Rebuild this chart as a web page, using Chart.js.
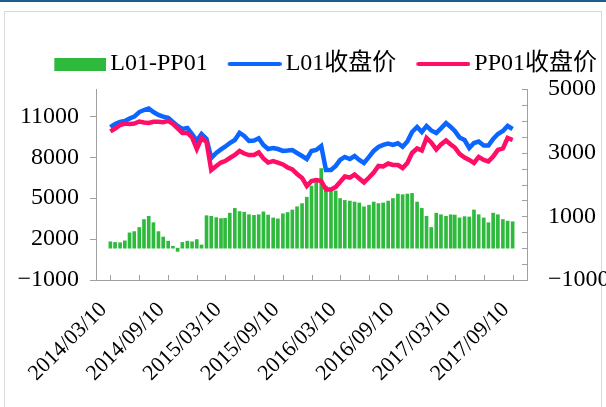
<!DOCTYPE html>
<html>
<head>
<meta charset="utf-8">
<script src="https://cdn.jsdelivr.net/npm/chart.js@4"></script>
<style>
  body { margin: 0; width: 606px; height: 407px; position: relative; background: #fff; overflow: hidden; }
  .topline { position: absolute; left: 0; top: 0; width: 606px; height: 2px; background: #1b5e8e; }
  .frame { position: absolute; left: 4px; top: 11px; width: 596px; height: 420px; border: 1px solid #d9d9d9; }
  #chart { position: absolute; left: 0; top: 0; }
</style>
</head>
<body>
<div class="topline"></div>
<div class="frame"></div>
<canvas id="chart" width="606" height="407"></canvas>
<script>
// sampled twice a month (the 10th and the 25th), 2014/03/10 .. 2017/09/10
const startYear = 2014, startMonth = 2, monthCount = 42;

const l01Close = [
  10200, 10430, 10580, 10650, 10840, 10980, 11310, 11460, 11570, 11310,
  11100, 10970, 10880, 10580, 10290, 10070, 10140, 9700, 9200, 9700,
  9340, 7940, 8310, 8570, 8770, 9040, 9260, 9780, 9560, 9190,
  9230, 9390, 8900, 8600, 8680, 8600, 8460, 8490, 8530, 8310,
  8090, 7870, 8460, 8530, 8820, 7060, 7060, 7360, 7800, 8020,
  7870, 8090, 7800, 7580, 8020, 8460, 8750, 8900, 9000, 8900,
  9020, 8770, 9150, 9850, 10220, 9850, 10290, 9960, 9780, 10120,
  10500, 10220, 9920, 9450, 9260, 8680, 9040, 9150, 8860, 8860,
  9340, 9700, 9920, 10290, 10070
];

const pp01Close = [
  9890, 10100, 10360, 10470, 10440, 10470, 10620, 10550, 10510, 10600,
  10600, 10560, 10660, 10440, 10110, 9780, 9780, 9450, 8600, 9400,
  9120, 7060, 7360, 7610, 7720, 7940, 8160, 8460, 8270, 8160,
  8160, 8350, 7910, 7610, 7720, 7610, 7470, 7250, 7100, 6770,
  6480, 5890, 6260, 6330, 6260, 5630, 5630, 5820, 6180, 6590,
  6510, 6730, 6440, 6150, 6510, 6880, 7360, 7320, 7540, 7430,
  7430, 7210, 7580, 8310, 8640, 8490, 9410, 9080, 8570, 8930,
  9230, 8930, 8710, 8240, 7980, 7800, 7580, 8020, 7800, 7690,
  8040, 8530, 8650, 9410, 9260
];

const spread = [
  200, 180, 170, 230, 480, 520, 650, 900, 1000, 800,
  520, 350, 220, 60, -100, 180, 220, 200, 270, 100,
  1020, 1000, 960, 930, 940, 1100, 1250, 1150, 1130, 1050,
  1030, 1050, 1140, 1040, 950, 920, 1080, 1120, 1200, 1300,
  1400, 1600, 1950, 2150, 2500, 1950, 1850, 1800, 1560, 1500,
  1480, 1450, 1420, 1300, 1350, 1450, 1400, 1420, 1480, 1560,
  1700, 1680, 1700, 1720, 1450, 1250, 1000, 650, 1100, 1050,
  1000, 1050, 1040, 950, 990, 980, 1200, 1050, 950, 800,
  1100, 1050, 900, 850, 830
];

const xTickLabels = ['2014/03/10', '2014/09/10', '2015/03/10', '2015/09/10',
  '2016/03/10', '2016/09/10', '2017/03/10', '2017/09/10'];
const leftTicks = [-1000, 2000, 5000, 8000, 11000];
const rightTicks = [-1000, 1000, 3000, 5000];

const seriesNames = ['L01-PP01', 'L01收盘价', 'PP01收盘价'];
const green = '#2fba3e', blue = '#0a66ff', red = '#ff0d66', axisColor = '#a0a0a0';
const FONT = "'Liberation Serif', 'Noto Sans CJK SC', serif";

const day0 = Date.UTC(startYear, startMonth, 10);
const toDay = t => Math.round((t - day0) / 86400000);

// x positions (days since first date)
const sampleDays = [];
for (let k = 0; k <= monthCount; k++) {
  sampleDays.push(toDay(Date.UTC(startYear, startMonth + k, 10)));
  if (k < monthCount) sampleDays.push(toDay(Date.UTC(startYear, startMonth + k, 25)));
}
const quarterDays = [];
for (let k = 0; k <= monthCount; k += 3) quarterDays.push(toDay(Date.UTC(startYear, startMonth + k, 10)));

const pts = arr => arr.map((v, i) => ({ x: sampleDays[i], y: v }));
const numLabel = v => (v < 0 ? '\u2212' + Math.abs(v) : String(v));

// legend swatches: bar box and thick line, drawn flush right in a 73px image
function swatch(kind, color) {
  const c = document.createElement('canvas');
  c.width = 73; c.height = 16;
  const g = c.getContext('2d');
  if (kind === 'bar') {
    g.fillStyle = color;
    g.fillRect(21, 2, 52, 13);
  } else {
    g.strokeStyle = color;
    g.lineWidth = 4;
    g.lineCap = 'round';
    g.beginPath(); g.moveTo(21, 8); g.lineTo(71, 8); g.stroke();
  }
  return c;
}
const swatches = [swatch('bar', green), swatch('line', blue), swatch('line', red)];

const axisTicks = {
  id: 'axisTicks',
  afterInit(chart) {
    const lg = chart.legend;
    const fit = lg.fit;
    lg.fit = function () { fit.call(this); this.height = 46; };
  },
  afterDraw(chart) {
    const { ctx, chartArea: a, scales } = chart;
    ctx.save();
    ctx.strokeStyle = axisColor;
    ctx.lineWidth = 1;
    ctx.beginPath();
    leftTicks.forEach(v => {
      const y = Math.round(scales.y.getPixelForValue(v)) + 0.5;
      ctx.moveTo(a.left - 6, y); ctx.lineTo(a.left, y);
    });
    for (let v = -1000; v <= 5000; v += 500) {
      const y = Math.round(scales.y1.getPixelForValue(v)) + 0.5;
      ctx.moveTo(a.right - 5, y); ctx.lineTo(a.right, y);
    }
    quarterDays.forEach(d => {
      const x = Math.round(scales.x.getPixelForValue(d)) + 0.5;
      ctx.moveTo(x, a.bottom); ctx.lineTo(x, a.bottom - 5);
    });
    ctx.stroke();
    ctx.restore();
  }
};

new Chart(document.getElementById('chart'), {
  data: {
    datasets: [
      {
        type: 'bar', label: seriesNames[0], data: pts(spread), yAxisID: 'y1',
        backgroundColor: green, barThickness: 3, order: 3
      },
      {
        type: 'line', label: seriesNames[1], data: pts(l01Close), yAxisID: 'y',
        borderColor: blue, backgroundColor: blue, borderWidth: 4.5, pointRadius: 0, tension: 0, order: 2
      },
      {
        type: 'line', label: seriesNames[2], data: pts(pp01Close), yAxisID: 'y',
        borderColor: red, backgroundColor: red, borderWidth: 4.5, pointRadius: 0, tension: 0, order: 1
      }
    ]
  },
  options: {
    responsive: false,
    animation: false,
    devicePixelRatio: 1,
    layout: { padding: { left: 0, top: 43, right: 0, bottom: 0 } },
    plugins: {
      tooltip: { enabled: false },
      legend: {
        position: 'top',
        align: 'end',
        labels: {
          usePointStyle: true,
          pointStyleWidth: 57,
          padding: 9,
          color: '#000',
          font: { family: FONT, size: 24 },
          generateLabels(chart) {
            const items = Chart.defaults.plugins.legend.labels.generateLabels(chart);
            items.sort((p, q) => p.datasetIndex - q.datasetIndex);
            items.forEach(it => { it.pointStyle = swatches[it.datasetIndex]; });
            return items;
          }
        }
      }
    },
    scales: {
      x: {
        type: 'linear',
        min: 0,
        max: quarterDays[quarterDays.length - 1],
        afterBuildTicks(s) { s.ticks = quarterDays.map(v => ({ value: v })); },
        afterFit(s) { s.height = 127; },
        grid: { display: false },
        border: { display: true, color: axisColor, width: 1 },
        ticks: {
          autoSkip: false, minRotation: 45, maxRotation: 45, padding: 9, labelOffset: -7,
          color: '#000', font: { family: FONT, size: 22 },
          callback(v, i) { return i % 2 === 0 ? xTickLabels[i / 2] : ''; }
        }
      },
      y: {
        position: 'left',
        min: -1000, max: 13000,
        afterBuildTicks(s) { s.ticks = leftTicks.map(v => ({ value: v })); },
        afterFit(s) { s.width = 96; },
        grid: { display: false },
        border: { display: true, color: axisColor, width: 1 },
        ticks: { padding: 9, color: '#000', font: { family: FONT, size: 24 }, callback: numLabel }
      },
      y1: {
        position: 'right',
        min: -1000, max: 5000,
        afterBuildTicks(s) { s.ticks = rightTicks.map(v => ({ value: v })); },
        afterFit(s) { s.width = 79; },
        grid: { display: false },
        border: { display: true, color: axisColor, width: 1 },
        ticks: { padding: 13, color: '#000', font: { family: FONT, size: 24 }, callback: numLabel }
      }
    }
  },
  plugins: [axisTicks]
});
</script>
</body>
</html>
